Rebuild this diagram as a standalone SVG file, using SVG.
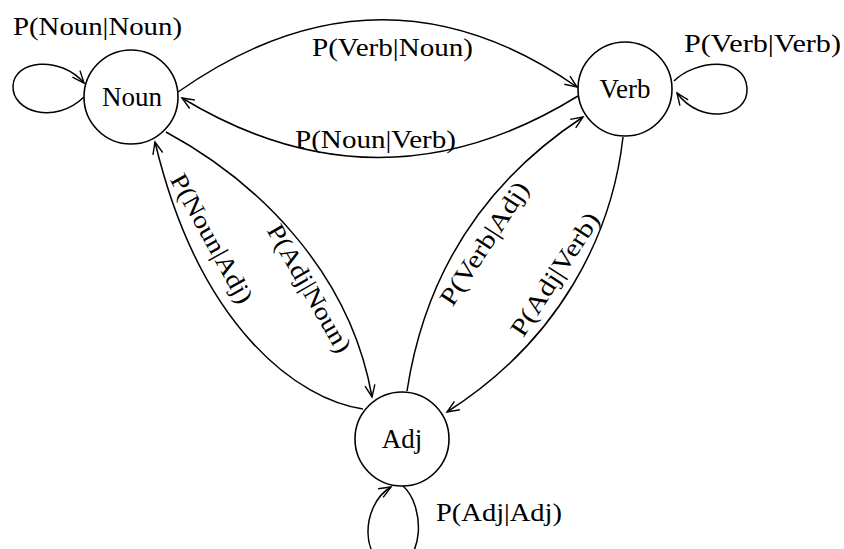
<svg xmlns="http://www.w3.org/2000/svg" width="844" height="549" viewBox="0 0 844 549">
<defs>
<style>
.node circle{fill:#fff;stroke:#000;stroke-width:1.6}
.node text{font-family:"Liberation Serif","Times New Roman",serif;font-size:27px;text-anchor:middle;fill:#000}
.edge{fill:none;stroke:#000;stroke-width:1.5;marker-end:url(#arr)}
.lbl{font-family:"Liberation Serif","Times New Roman",serif;font-size:25px;fill:#000}
</style>
<marker id="arr" markerUnits="userSpaceOnUse" markerWidth="16" markerHeight="14" refX="13" refY="6" orient="auto">
<path d="M1,1 L13,6 L1,11" fill="none" stroke="#000" stroke-width="1.4"/>
</marker>
</defs>
<rect width="844" height="549" fill="#fff"/>
<g id="connectors">
<path class="edge" d="M84,97 C55,125 12,112 13,86 C14,60 60,55 84,83"/>
<path class="edge" d="M674,81 C695,60 745,55 747,88 C749,118 700,125 677,93"/>
<path class="edge" d="M403,486 C425,505 425,565 393,565 C360,565 360,505 391,487"/>
<path class="edge" d="M178,92 Q380,-50 577,87"/>
<path class="edge" d="M578,96 Q380,218 182,98"/>
<path class="edge" d="M166,132 C255,180 350,270 372,397"/>
<path class="edge" d="M363,409 C300,400 200,330 155,142"/>
<path class="edge" d="M407,391 Q434,215 583,117"/>
<path class="edge" d="M623,137 C612,235 560,340 447,412"/>
</g>
<g id="labels">
<text class="lbl" x="13" y="35" textLength="169" lengthAdjust="spacingAndGlyphs">P(Noun|Noun)</text>
<text class="lbl" x="312" y="56" textLength="161" lengthAdjust="spacingAndGlyphs">P(Verb|Noun)</text>
<text class="lbl" x="295" y="148" textLength="161" lengthAdjust="spacingAndGlyphs">P(Noun|Verb)</text>
<text class="lbl" x="684" y="52" textLength="157" lengthAdjust="spacingAndGlyphs">P(Verb|Verb)</text>
<text class="lbl" x="436" y="521" textLength="126" lengthAdjust="spacingAndGlyphs">P(Adj|Adj)</text>
<text class="lbl" transform="translate(211.5,238.5) rotate(61)" x="-72" y="8" textLength="144" lengthAdjust="spacingAndGlyphs">P(Noun|Adj)</text>
<text class="lbl" transform="translate(310,288) rotate(60)" x="-72" y="9" textLength="144" lengthAdjust="spacingAndGlyphs">P(Adj|Noun)</text>
<text class="lbl" transform="translate(482,242) rotate(-57)" x="-71" y="11" textLength="142" lengthAdjust="spacingAndGlyphs">P(Verb|Adj)</text>
<text class="lbl" transform="translate(556,275) rotate(-57)" x="-71" y="7" textLength="142" lengthAdjust="spacingAndGlyphs">P(Adj|Verb)</text>
</g>
<g id="node-noun" class="node">
<circle cx="131" cy="97" r="47"/>
<text x="132" y="106">Noun</text>
</g>
<g id="node-verb" class="node">
<circle cx="625" cy="89" r="47"/>
<text x="625" y="98">Verb</text>
</g>
<g id="node-adj" class="node">
<circle cx="402" cy="439" r="47"/>
<text x="402" y="448">Adj</text>
</g>
</svg>
